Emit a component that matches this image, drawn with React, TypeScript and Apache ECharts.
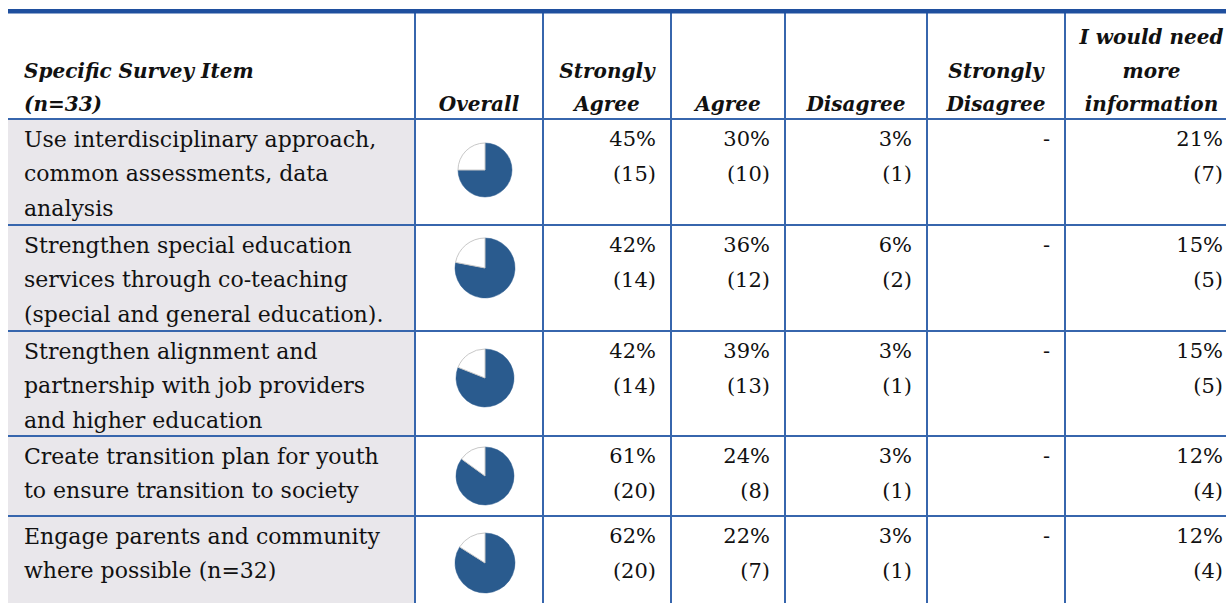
import React, { useEffect, useRef } from "react";
import * as echarts from "echarts";

const headers = [
  ["Specific Survey Item", "(n=33)"],
  ["Overall"],
  ["Strongly", "Agree"],
  ["Agree"],
  ["Disagree"],
  ["Strongly", "Disagree"],
  ["I would need", "more", "information"],
];

const items = [
  ["Use interdisciplinary approach,", "common assessments, data", "analysis"],
  ["Strengthen special education", "services through co-teaching", "(special and general education)."],
  ["Strengthen alignment and", "partnership with job providers", "and higher education"],
  ["Create transition plan for youth", "to ensure transition to society"],
  ["Engage parents and community", "where possible (n=32)"],
];

const stronglyAgreePct = [45, 42, 42, 61, 62];
const stronglyAgreeN = [15, 14, 14, 20, 20];
const agreePct = [30, 36, 39, 24, 22];
const agreeN = [10, 12, 13, 8, 7];
const disagreePct = [3, 6, 3, 3, 3];
const disagreeN = [1, 2, 1, 1, 1];
const stronglyDisagreePct: (number | null)[] = [null, null, null, null, null];
const stronglyDisagreeN: (number | null)[] = [null, null, null, null, null];
const needInfoPct = [21, 15, 15, 12, 12];
const needInfoN = [7, 5, 5, 4, 4];

// layout
const W = 1226;
const H = 603;
const LEFT = 8;
const TOP = 11;
const HEADER_BOTTOM = 119;
const colEdges = [LEFT, 415, 543, 671, 785, 927, 1065, 1238];
const rowTops = [119, 225, 331, 436, 516];
const pieY = [170, 268, 378, 476, 563];
const pieR = [27, 30, 29, 29, 30];
const LINE = 34.5;
const BLUE = "#2a5b8e";
const GRID = "#3766ad";
const TEXT = "#111111";
const FONT = "DejaVu Serif";

function txt(text: string, x: number, y: number, align: string, font: string) {
  return {
    type: "text",
    silent: true,
    style: {
      text,
      x,
      y,
      font,
      fill: TEXT,
      align,
      textAlign: align,
      verticalAlign: "middle",
      textVerticalAlign: "middle",
    },
  };
}

export default function App() {
  const ref = useRef<HTMLDivElement>(null);
  useEffect(() => {
    if (!ref.current) return;
    const chart = echarts.init(ref.current, null, { renderer: "svg" });
    const g: any[] = [];
    // left column background
    g.push({
      type: "rect",
      silent: true,
      shape: { x: LEFT, y: HEADER_BOTTOM, width: colEdges[1] - LEFT, height: H - HEADER_BOTTOM },
      style: { fill: "#e9e7eb" },
    });
    // header texts
    const hFont = `italic bold 20px "${FONT}"`;
    const headerBaseY = 104;
    headers.forEach((lines, c) => {
      const n = lines.length;
      lines.forEach((t, i) => {
        const y = headerBaseY - (n - 1 - i) * 33.5;
        if (c === 0) g.push(txt(t, 24, y, "left", hFont));
        else g.push(txt(t, (colEdges[c] + colEdges[c + 1]) / 2, y, "center", hFont));
      });
    });
    const bFont = `22px "${FONT}"`;
    const nFont = `21px "${FONT}"`;
    const numCols: [(number | null)[], (number | null)[]][] = [
      [stronglyAgreePct, stronglyAgreeN],
      [agreePct, agreeN],
      [disagreePct, disagreeN],
      [stronglyDisagreePct, stronglyDisagreeN],
      [needInfoPct, needInfoN],
    ];
    items.forEach((lines, r) => {
      const y0 = rowTops[r] + 20;
      lines.forEach((t, i) => g.push(txt(t, 24, y0 + i * LINE, "left", bFont)));
      numCols.forEach(([pct, cnt], k) => {
        const rx = colEdges[k + 3] - 15;
        const p = pct[r];
        const c = cnt[r];
        if (p == null) {
          g.push(txt("-", rx, y0, "right", nFont));
        } else {
          g.push(txt(`${p}%`, rx, y0, "right", nFont));
          if (c != null) g.push(txt(`(${c})`, rx, y0 + LINE, "right", nFont));
        }
      });
    });
    // grid lines
    rowTops.forEach((y) => {
      g.push({
        type: "line",
        silent: true,
        shape: { x1: LEFT, y1: y, x2: W, y2: y },
        style: { stroke: GRID, lineWidth: 2 },
      });
    });
    colEdges.slice(1, 7).forEach((x) => {
      g.push({
        type: "line",
        silent: true,
        shape: { x1: x, y1: TOP, x2: x, y2: H },
        style: { stroke: GRID, lineWidth: 2 },
      });
    });
    g.push({
      type: "rect",
      silent: true,
      shape: { x: LEFT, y: TOP - 2, width: W - LEFT, height: 4.5 },
      style: { fill: "#1f4f9e" },
    });

    const series = items.map((_, r) => {
      const agreeTotal = stronglyAgreePct[r] + agreePct[r];
      return {
        type: "pie",
        silent: true,
        center: [(colEdges[1] + colEdges[2]) / 2 + 6, pieY[r]],
        radius: pieR[r],
        startAngle: 90,
        clockwise: true,
        label: { show: false },
        labelLine: { show: false },
        data: [
          { value: agreeTotal, name: "Agree", itemStyle: { color: BLUE, borderColor: BLUE, borderWidth: 0.5 } },
          { value: 100 - agreeTotal, name: "Other", itemStyle: { color: "#ffffff", borderColor: "#c8c8c8", borderWidth: 1 } },
        ],
      };
    });

    chart.setOption({
      animation: false,
      graphic: { elements: g },
      series,
    });
    return () => chart.dispose();
  }, []);
  return (
    <div
      ref={ref}
      style={{ position: "fixed", left: 0, top: 0, width: W, height: H, background: "#fff" }}
    />
  );
}
